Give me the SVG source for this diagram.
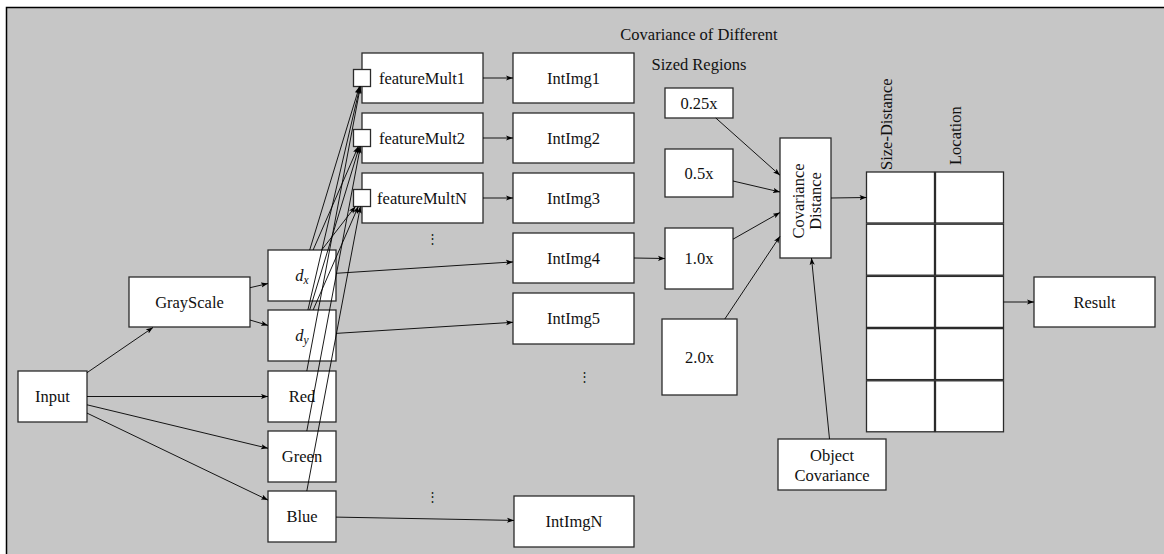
<svg xmlns="http://www.w3.org/2000/svg" width="1164" height="554" viewBox="0 0 1164 554">
<style>
.box{fill:#fff;stroke:#2b2b2b;stroke-width:1.3}
.t{font-family:"Liberation Serif","Times New Roman",serif;font-size:16.5px;fill:#111;text-anchor:middle}
.ts{font-family:"Liberation Serif","Times New Roman",serif;font-size:16.5px;fill:#111}
.dots{font-family:"DejaVu Serif",serif;font-size:13px;fill:#222;text-anchor:middle}
.c{fill:none;stroke:#000;stroke-width:0.9;marker-end:url(#ah)}
</style>
<defs>
<marker id="ah" markerWidth="8" markerHeight="6" refX="7" refY="3" orient="auto" markerUnits="userSpaceOnUse">
<path d="M0,0.4 L7,3 L0,5.6 L1.6,3 z" fill="#000"/>
</marker>
</defs>
<rect x="6.5" y="7.5" width="1170" height="560" fill="#c6c6c6" stroke="#000" stroke-width="1.5"/>

<text class="t" x="699" y="40">Covariance of Different</text>
<text class="t" x="699" y="70">Sized Regions</text>

<g id="input"><rect class="box" x="18" y="371" width="69" height="51"/><text class="t" x="52.5" y="401.5">Input</text></g>
<g id="grayscale"><rect class="box" x="129" y="277" width="121" height="50"/><text class="t" x="189.5" y="307.5">GrayScale</text></g>

<g id="dx"><rect class="box" x="268" y="250" width="68" height="51"/><text class="t" x="302" y="281"><tspan font-style="italic">d</tspan><tspan font-style="italic" font-size="11.5" dy="2.5">x</tspan></text></g>
<g id="dy"><rect class="box" x="268" y="310" width="68" height="51"/><text class="t" x="302" y="341"><tspan font-style="italic">d</tspan><tspan font-style="italic" font-size="11.5" dy="2.5">y</tspan></text></g>
<g id="red"><rect class="box" x="268" y="371" width="68" height="51"/><text class="t" x="302" y="401.5">Red</text></g>
<g id="green"><rect class="box" x="268" y="431" width="68" height="51"/><text class="t" x="302" y="461.5">Green</text></g>
<g id="blue"><rect class="box" x="268" y="491" width="68" height="51"/><text class="t" x="302" y="521.5">Blue</text></g>

<g id="fm1"><rect class="box" x="362" y="53" width="121" height="50"/><rect class="box" x="353.5" y="69.5" width="17" height="17"/><text class="t" x="422" y="83.5">featureMult1</text></g>
<g id="fm2"><rect class="box" x="362" y="113" width="121" height="50"/><rect class="box" x="353.5" y="129.5" width="17" height="17"/><text class="t" x="422" y="143.5">featureMult2</text></g>
<g id="fmN"><rect class="box" x="362" y="173" width="121" height="50"/><rect class="box" x="353.5" y="189.5" width="17" height="17"/><text class="t" x="422" y="203.5">featureMultN</text></g>

<g id="ii1"><rect class="box" x="513" y="53" width="121" height="50"/><text class="t" x="573.5" y="83.5">IntImg1</text></g>
<g id="ii2"><rect class="box" x="513" y="113" width="121" height="50"/><text class="t" x="573.5" y="143.5">IntImg2</text></g>
<g id="ii3"><rect class="box" x="513" y="173" width="121" height="50"/><text class="t" x="573.5" y="203.5">IntImg3</text></g>
<g id="ii4"><rect class="box" x="513" y="233" width="121" height="50"/><text class="t" x="573.5" y="263.5">IntImg4</text></g>
<g id="ii5"><rect class="box" x="513" y="293" width="121" height="51"/><text class="t" x="573.5" y="323.5">IntImg5</text></g>
<g id="iiN"><rect class="box" x="514" y="496" width="120" height="51"/><text class="t" x="574" y="526.5">IntImgN</text></g>

<g id="vd1"><text class="dots" x="432.5" y="243">⋮</text></g>
<g id="vd2"><text class="dots" x="584.5" y="381">⋮</text></g>
<g id="vd3"><text class="dots" x="432.5" y="501">⋮</text></g>

<g id="s025"><rect class="box" x="665" y="88" width="68" height="30"/><text class="t" x="699" y="108.5">0.25x</text></g>
<g id="s05"><rect class="box" x="665" y="149" width="68" height="48"/><text class="t" x="699" y="178.5">0.5x</text></g>
<g id="s10"><rect class="box" x="665" y="228" width="68" height="61"/><text class="t" x="699" y="264">1.0x</text></g>
<g id="s20"><rect class="box" x="662" y="319" width="75" height="76"/><text class="t" x="699.5" y="362.5">2.0x</text></g>

<g id="covdist"><rect class="box" x="780" y="138" width="51" height="120"/>
<text class="t" transform="translate(803.5,201) rotate(-90)">Covariance</text>
<text class="t" transform="translate(821,201) rotate(-90)">Distance</text></g>

<g id="objcov"><rect class="box" x="778" y="439" width="108" height="51"/><text class="t" x="832" y="460.5">Object</text><text class="t" x="832" y="481">Covariance</text></g>

<g id="grid">
<rect class="box" x="866.5" y="172" width="68" height="51"/><rect class="box" x="935.5" y="172" width="68" height="51"/>
<rect class="box" x="866.5" y="224.2" width="68" height="51"/><rect class="box" x="935.5" y="224.2" width="68" height="51"/>
<rect class="box" x="866.5" y="276.4" width="68" height="51"/><rect class="box" x="935.5" y="276.4" width="68" height="51"/>
<rect class="box" x="866.5" y="328.6" width="68" height="51"/><rect class="box" x="935.5" y="328.6" width="68" height="51"/>
<rect class="box" x="866.5" y="380.8" width="68" height="51"/><rect class="box" x="935.5" y="380.8" width="68" height="51"/>
<text class="ts" transform="translate(892,170) rotate(-90)">Size-Distance</text>
<text class="ts" transform="translate(961,165) rotate(-90)">Location</text>
</g>

<g id="result"><rect class="box" x="1034" y="277" width="121" height="50"/><text class="t" x="1094.5" y="307.5">Result</text></g>

<g id="connectors">
<line class="c" x1="87" y1="372.7" x2="153" y2="327.5"/>
<line class="c" x1="87" y1="396.5" x2="268" y2="396.5"/>
<line class="c" x1="87" y1="404.8" x2="268" y2="448.3"/>
<line class="c" x1="87" y1="413.1" x2="268" y2="500.1"/>
<line class="c" x1="250" y1="287.7" x2="268" y2="283.5"/>
<line class="c" x1="250" y1="320" x2="268" y2="325.4"/>

<line class="c" x1="309.7" y1="250" x2="359.4" y2="86.5"/>
<line class="c" x1="313.1" y1="250" x2="358.3" y2="146.5"/>
<line class="c" x1="321.7" y1="250" x2="355.4" y2="206.5"/>
<line class="c" x1="307.9" y1="310" x2="360" y2="86.5"/>
<line class="c" x1="309.7" y1="310" x2="359.4" y2="146.5"/>
<line class="c" x1="313.1" y1="310" x2="358.3" y2="206.5"/>
<line class="c" x1="306.8" y1="371" x2="360.4" y2="86.5"/>
<line class="c" x1="306.8" y1="431" x2="360.4" y2="146.5"/>
<line class="c" x1="306.8" y1="491" x2="360.4" y2="206.5"/>

<line class="c" x1="483" y1="78" x2="513" y2="78"/>
<line class="c" x1="483" y1="138" x2="513" y2="138"/>
<line class="c" x1="483" y1="198" x2="513" y2="198"/>

<line class="c" x1="336" y1="273.3" x2="513" y2="261.9"/>
<line class="c" x1="336" y1="333.4" x2="513" y2="322.3"/>
<line class="c" x1="336" y1="517.1" x2="514" y2="520.4"/>

<line class="c" x1="634" y1="258" x2="665" y2="258.5"/>

<line class="c" x1="715.8" y1="118" x2="780" y2="175.3"/>
<line class="c" x1="733" y1="181" x2="780" y2="192"/>
<line class="c" x1="733" y1="239.2" x2="780" y2="212.5"/>
<line class="c" x1="724.8" y1="319" x2="780" y2="236.3"/>
<line class="c" x1="829.5" y1="439" x2="811.5" y2="258"/>

<line class="c" x1="831" y1="198" x2="866.5" y2="197.5"/>
<line class="c" x1="1003.5" y1="302" x2="1034" y2="302"/>
</g>
</svg>
